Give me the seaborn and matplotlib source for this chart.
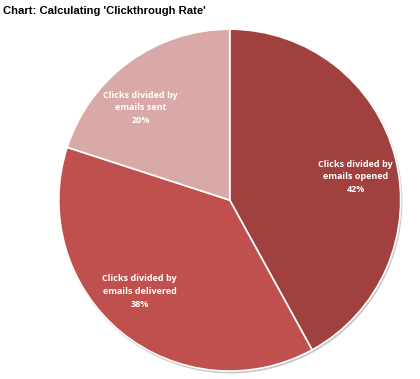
import numpy as np
import matplotlib
matplotlib.use("Agg")
import matplotlib.pyplot as plt
from matplotlib.patches import Circle
import seaborn as sns

labels = ["Clicks divided by\nemails opened", "Clicks divided by\nemails delivered", "Clicks divided by\nemails sent"]
shares = [42, 38, 20]
colors = ["#A0403F", "#C0504D", "#D9A9A8"]

sns.set_theme(style="white")
plt.rcParams["font.family"] = ["Liberation Sans", "DejaVu Sans"]

fig = plt.figure(figsize=(4.2, 3.79), dpi=100)
ax = fig.add_axes([0.140, 0.021, 0.814, 0.902])

# soft shadow under the pie
ax.add_patch(Circle((0.006, -0.010), 1.0, color="#c9c9c9", zorder=0, clip_on=False))

wedges, _ = ax.pie(shares, colors=colors, startangle=90, counterclock=False,
                   wedgeprops=dict(edgecolor="white", linewidth=1.2))
ax.set_aspect("equal")
ax.set_xlim(-1.0, 1.0)
ax.set_ylim(-1.0, 1.0)

# labels inside each slice (best-fit style nudges)
nudge = [-4, -5, 8]
for w, lab, s, d in zip(wedges, labels, shares, nudge):
    mid = np.deg2rad((w.theta1 + w.theta2) / 2 + d)
    r = 0.75
    ax.text(r * np.cos(mid), r * np.sin(mid), f"{lab}\n{s}%", ha="center", va="center",
            color="white", fontsize=6.5, fontweight="bold", linespacing=1.55,
            family=["Open Sans", "DejaVu Sans"])

fig.text(0.007, 0.972, "Chart: Calculating 'Clickthrough Rate'", fontsize=8.1,
         fontweight="bold", ha="left", va="center", color="black")

fig.savefig("out.png", dpi=100)
